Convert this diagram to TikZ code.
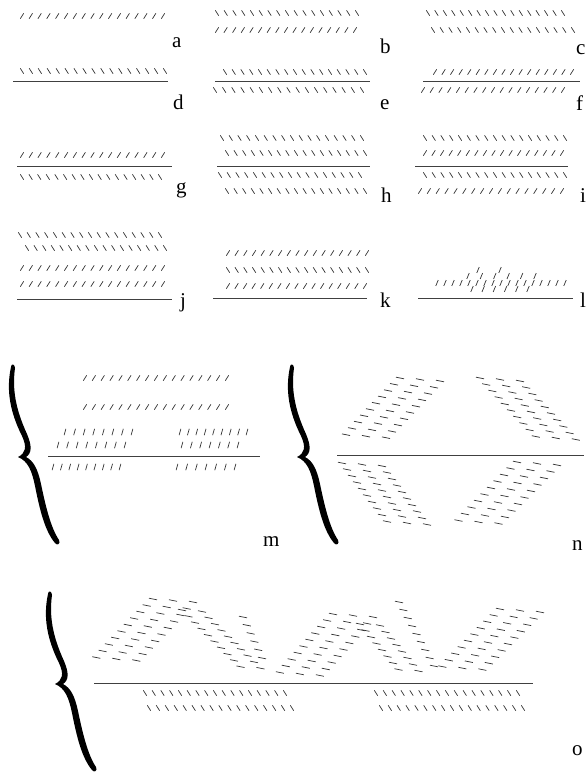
\documentclass[tikz,border=0pt]{standalone}
\usepackage{fontspec}
\setmainfont{Liberation Serif}
\newcommand\drow[5]{\foreach \k in {1,...,#5}{\pgfmathsetmacro\xx{#2+(\k-1)*(#3-#2)/(#5-1)}\path (\xx,#4) pic{#1};}}
\newcommand\dband[6]{\foreach \r in {1,...,#5}{\foreach \c in {1,...,#6}{\pgfmathsetmacro\xx{#1+(\r-1)*(#3)+(\c-1)*20}\pgfmathsetmacro\yy{#2+(\r-1)*(#4)+(\c-1)*1.5}\path (\xx,\yy) pic{fl};}}}
\newcommand\dcol[5]{\foreach \k in {1,...,#5}{\pgfmathsetmacro\xx{#1+(\k-1)*(#3-#1)/(#5-1)}\pgfmathsetmacro\yy{#2+(\k-1)*(#4-#2)/(#5-1)}\path (\xx,\yy) pic{fl};}}
\newcommand\mybrc{\fill[black] (11,367) .. controls (6,390) and (10,412) .. (22,436) .. controls (27,447) and (26,453) .. (18,457)
  .. controls (28,461) and (32,471) .. (35,486) .. controls (40,511) and (45,531) .. (55,543)
  .. controls (57,546) and (61,544) .. (59,540)
  .. controls (51,528) and (46,508) .. (41,484) .. controls (38,470) and (34,461) .. (26,457)
  .. controls (32,453) and (32,446) .. (27,434) .. controls (16,410) and (12,390) .. (15,368)
  .. controls (15,364) and (11,363) .. (11,367) -- cycle;}
\begin{document}
\begin{tikzpicture}[x=1pt,y=-1pt,
  dsh/.style={line width=0.7pt, draw=black!80},
  ground/.style={line width=0.9pt, draw=black!75},
  lbl/.style={anchor=base west, inner sep=0pt, font=\fontsize{21}{24}\selectfont},
  fw/.pic={\draw[dsh] (-1.7,2.7) -- (1.7,-2.7);},
  bw/.pic={\draw[dsh] (-1.7,-2.7) -- (1.7,2.7);},
  st/.pic={\draw[dsh] (-0.9,3.2) -- (0.9,-3.2);},
  sl/.pic={\draw[dsh] (-1.2,2.9) -- (1.2,-2.9);},
  fl/.pic={\draw[dsh] (-4,-0.8) -- (4,0.8);}]
\useasboundingbox (0,0) rectangle (586,772);
\fill[white] (0,0) rectangle (586,772);
% a
\drow{fw}{22}{163}{16}{17}
\node[lbl] (la) at (172,47) {a};
% d
\drow{bw}{22}{165}{71}{17}
\draw[ground] (13,81) -- (168,81);
\node[lbl] (ld) at (173,109) {d};
% b
\drow{bw}{217}{357}{13}{17}
\drow{fw}{217}{355}{30}{17}
\node[lbl] (lb) at (380,53) {b};
% e
\drow{bw}{225}{365}{72}{17}
\draw[ground] (215,81) -- (370,81);
\drow{bw}{215}{362}{90}{17}
\node[lbl] (le) at (380,109) {e};
% c
\drow{bw}{428}{563}{13}{17}
\drow{bw}{433}{573}{30}{17}
\node[lbl] (lc) at (576,54) {c};
% f
\drow{fw}{435}{572}{72}{17}
\draw[ground] (423,81) -- (580,81);
\drow{fw}{423}{563}{90}{17}
\node[lbl] (lf) at (576,110) {f};
% g
\drow{fw}{22}{163}{155}{17}
\draw[ground] (17,166) -- (172,166);
\drow{bw}{22}{160}{177}{17}
\node[lbl] (lg) at (176,193) {g};
% h
\drow{bw}{222}{362}{138}{17}
\drow{bw}{227}{365}{153}{17}
\draw[ground] (217,166) -- (370,166);
\drow{bw}{220}{360}{175}{17}
\drow{bw}{227}{365}{191}{17}
\node[lbl] (lh) at (381,202) {h};
% i
\drow{bw}{425}{565}{138}{17}
\drow{fw}{425}{562}{153}{17}
\draw[ground] (415,166) -- (568,166);
\drow{bw}{425}{565}{175}{17}
\drow{fw}{420}{562}{191}{17}
\node[lbl] (li) at (580,202) {i};
% j
\drow{bw}{20}{160}{235}{17}
\drow{bw}{27}{165}{248}{17}
\drow{fw}{22}{163}{268}{17}
\drow{fw}{22}{163}{284}{17}
\draw[ground] (17,299) -- (172,299);
\node[lbl] (lj) at (180,307) {j};
% k
\drow{fw}{228}{367}{253}{17}
\drow{bw}{228}{367}{270}{17}
\drow{fw}{228}{365}{286}{17}
\draw[ground] (213,298) -- (367,298);
\node[lbl] (lk) at (380,307) {k};
% l
\drow{sl}{437}{565}{283}{17}
\drow{sl}{468}{535}{276}{6}
\drow{sl}{478}{500}{270}{2}
\drow{sl}{472}{528}{289}{6}
\draw[ground] (418,298) -- (573,298);
\node[lbl] (ll) at (580,307) {l};
% m
\mybrc
\drow{fw}{85}{227}{378}{17}
\drow{fw}{85}{227}{407}{17}
\drow{st}{65}{132}{432}{8}
\drow{st}{180}{247}{432}{9}
\drow{st}{58}{125}{445}{8}
\drow{st}{182}{238}{445}{7}
\draw[ground] (48,456) -- (260,456);
\drow{st}{53}{120}{467}{9}
\drow{st}{177}{235}{467}{7}
\node[lbl] (lm) at (263,546) {m};
% n
\begin{scope}[shift={(279,0)}]\mybrc\end{scope}
\dband{400}{378}{-6}{6.3}{10}{3}
\dband{480}{378}{6.2}{6.5}{10}{3}
\draw[ground] (337,455) -- (584,455);
\dband{342}{463}{5}{6.5}{10}{3}
\dband{517}{462}{-6.5}{6.5}{10}{3}
\node[lbl] (ln) at (572,550) {n};
% o
\begin{scope}[shift={(37,227)}]\mybrc\end{scope}
\dband{153}{599}{-6.3}{6.5}{10}{3}
\dband{182}{610}{6.5}{6.3}{10}{2}
\dcol{243}{617}{262}{658}{6}
\dband{333}{614}{-5.9}{6.5}{10}{3}
\dband{360}{624}{5.5}{6.5}{8}{2}
\dcol{399}{602}{434}{666}{9}
\dband{500}{609}{-6.4}{6.4}{10}{3}
\draw[ground] (94,683) -- (533,683);
\drow{bw}{145}{285}{693}{17}
\drow{bw}{149}{292}{708}{17}
\drow{bw}{376}{518}{693}{17}
\drow{bw}{381}{523}{708}{17}
\node[lbl] (lo) at (572,755) {o};
\end{tikzpicture}
\end{document}
